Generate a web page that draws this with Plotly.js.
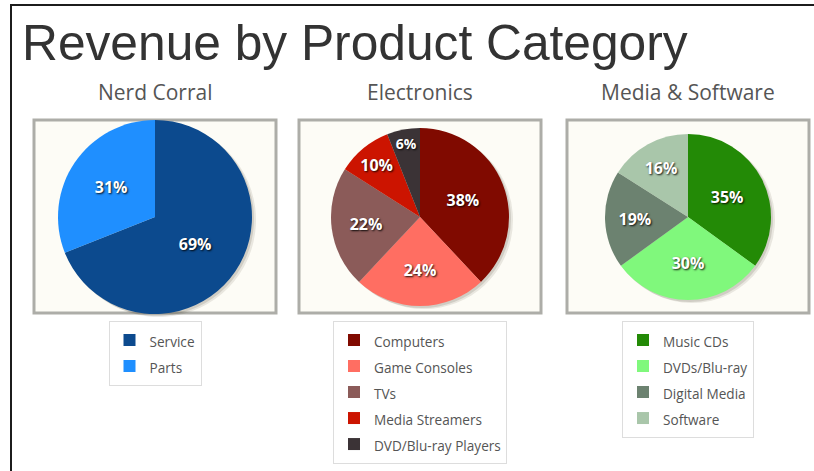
<!DOCTYPE html>
<html><head><meta charset="utf-8">
<script src="https://cdn.plot.ly/plotly-3.0.1.min.js"></script>
<style>html,body{margin:0;padding:0;background:#fff;} #chart{width:814px;height:471px;}</style>
</head><body><div id="chart"></div>
<script>
// ---- data ----
const chartTitle = 'Revenue by Product Category';
const groupNames = ['Nerd Corral', 'Electronics', 'Media & Software'];

const nerdLabels = ['Service', 'Parts'];
const nerdValues = [69, 31];
const nerdColors = ['#0c4a8e', '#1f8fff'];

const elecLabels = ['Computers', 'Game Consoles', 'TVs', 'Media Streamers', 'DVD/Blu-ray Players'];
const elecValues = [38, 24, 22, 10, 6];
const elecColors = ['#800a00', '#ff6e62', '#8b5b59', '#cc1400', '#3b3336'];

const mediaLabels = ['Music CDs', 'DVDs/Blu-ray', 'Digital Media', 'Software'];
const mediaValues = [35, 30, 19, 16];
const mediaColors = ['#238a06', '#80f87c', '#6c8270', '#a9c6aa'];

// ---- layout geometry (pixels) ----
const W = 814, H = 471;
const px = v => v / W;
const py = v => 1 - v / H;

const groups = [
  {labels: nerdLabels, values: nerdValues, colors: nerdColors, cx: 155, r: 97, legend: 'legend'},
  {labels: elecLabels, values: elecValues, colors: elecColors, cx: 420, r: 89, legend: 'legend2'},
  {labels: mediaLabels, values: mediaValues, colors: mediaColors, cx: 688, r: 83, legend: 'legend3'}
];
const cy = 217;
const boxHalfW = 121, boxTop = 120, boxBottom = 313;

const traces = [];
groups.forEach(g => {
  // soft drop shadow behind pie
  [[4, 3, 'rgba(60,50,30,0.10)'], [2, 2, 'rgba(60,50,30,0.14)']].forEach(([dx, dy, c]) => {
    traces.push({
      type: 'pie', values: g.values, labels: g.labels, sort: false, direction: 'clockwise',
      marker: {colors: g.values.map(() => c)}, textinfo: 'none', hoverinfo: 'skip', showlegend: false,
      domain: {x: [px(g.cx - g.r + dx), px(g.cx + g.r + dx)], y: [py(cy + g.r + dy), py(cy - g.r + dy)]}
    });
  });
  traces.push({
    type: 'pie', values: g.values,
    labels: g.labels.map(l => '<span style="font-size:13.6px">' + l + '</span>'),
    sort: false, direction: 'clockwise',
    marker: {colors: g.colors, line: {width: 0}},
    texttemplate: '%{percent:.0%}', textposition: 'inside', insidetextorientation: 'horizontal',
    textfont: {family: 'Open Sans, sans-serif', size: 16, color: '#ffffff', weight: 700,
               shadow: '1px 1px 2px rgba(0,0,0,0.9)'},
    hoverinfo: 'label+percent',
    legend: g.legend,
    domain: {x: [px(g.cx - g.r), px(g.cx + g.r)], y: [py(cy + g.r), py(cy - g.r)]}
  });
});

const shapes = [];
groups.forEach(g => {
  shapes.push({type: 'rect', xref: 'paper', yref: 'paper', layer: 'below',
    x0: px(g.cx - boxHalfW), x1: px(g.cx + boxHalfW), y0: py(boxBottom), y1: py(boxTop),
    fillcolor: '#fdfcf6', line: {color: '#adada8', width: 3}});
});
// page frame (left and top edges)
shapes.push({type: 'path', xref: 'paper', yref: 'paper', layer: 'above',
  path: `M ${px(11)} 0 L ${px(11)} ${py(5)} L 1 ${py(5)}`, line: {color: '#1c1c1c', width: 2}});

const annotations = groups.map((g, i) => ({
  text: groupNames[i], xref: 'paper', yref: 'paper', x: px(g.cx), y: py(92),
  xanchor: 'center', yanchor: 'middle', showarrow: false,
  font: {family: 'Open Sans, sans-serif', size: 21, color: '#555555'}
}));

const legendBase = {
  xanchor: 'center', yanchor: 'top', y: py(321),
  bgcolor: '#ffffff', bordercolor: '#dddddd', borderwidth: 1,
  font: {family: 'Open Sans, sans-serif', size: 17.7, color: '#555555'},
  itemwidth: 30, itemclick: false, itemdoubleclick: false
};

const layout = {
  width: W, height: H,
  margin: {l: 0, r: 0, t: 0, b: 0},
  paper_bgcolor: '#ffffff',
  title: {text: chartTitle, xref: 'container', yref: 'container', x: px(22), xanchor: 'left',
          y: 1 - 43 / H, yanchor: 'middle',
          font: {family: 'Liberation Sans, Arial, sans-serif', size: 49.7, color: '#333333'}},
  shapes: shapes,
  annotations: annotations,
  legend: Object.assign({}, legendBase, {x: px(155)}),
  legend2: Object.assign({}, legendBase, {x: px(420)}),
  legend3: Object.assign({}, legendBase, {x: px(688)})
};

Plotly.newPlot('chart', traces, layout, {displayModeBar: false, staticPlot: true});
</script></body></html>
